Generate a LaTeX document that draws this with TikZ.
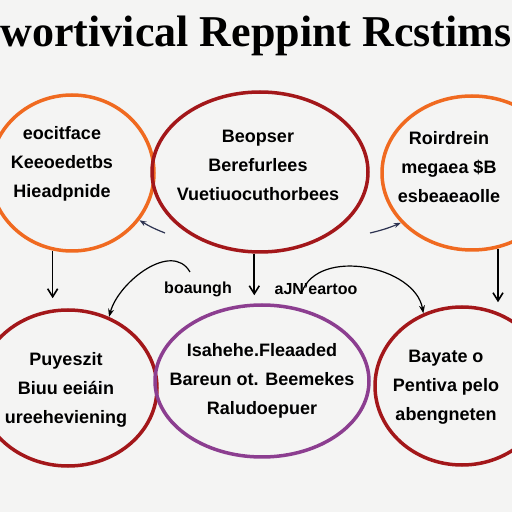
\documentclass[tikz,border=0pt]{standalone}
\usepackage{fontspec}
\setmainfont{Liberation Serif}
\setsansfont{Liberation Sans}
\usepackage{xcolor}
\usetikzlibrary{shapes.geometric, arrows.meta, positioning}
\definecolor{paper}{HTML}{F4F4F3}
\definecolor{ringorange}{HTML}{F06A20}
\definecolor{ringred}{HTML}{A3171A}
\definecolor{ringpurple}{HTML}{8C3E90}
\definecolor{inkblue}{HTML}{2C3250}

\begin{document}
\begin{tikzpicture}[x=1pt, y=1pt,
    ring/.style={ellipse, draw, line width=3.5pt, inner sep=0pt},
    txt/.style={align=center, font=\sffamily\bfseries\fontsize{18}{29}\selectfont},
    lbl/.style={font=\sffamily\bfseries\fontsize{16}{18}\selectfont},
    arrow/.style={-{Straight Barb[length=8pt, width=10pt]}, line width=1.6pt},
    curve/.style={-{Stealth[length=8pt, width=6pt]}, line width=1.2pt},
    stray/.style={-{Stealth[length=7pt, width=5pt]}, line width=1.2pt, inkblue}]
  \fill[paper] (0,0) rectangle (512,512);
  \useasboundingbox (0,0) rectangle (512,512);

  \node[font=\bfseries\fontsize{44}{48}\selectfont, anchor=base] (title) at (256,465)
        {wortivical Reppint Rcstims};

  \node[ring, ringorange, minimum width=164pt, minimum height=156pt] (tl) at (72,339) {};
  \node[ring, ringred, minimum width=216pt, minimum height=160pt] (tc) at (260,340) {};
  \node[ring, ringorange, minimum width=180pt, minimum height=154pt] (tr) at (472,339) {};
  \node[ring, ringred, minimum width=178pt, minimum height=156pt] (bl) at (68,124) {};
  \node[ring, ringpurple, minimum width=214pt, minimum height=152pt] (bc) at (262,131) {};
  \node[ring, ringred, minimum width=174pt, minimum height=158pt] (br) at (462,126) {};

  \node[txt] (tltext) at (62,348) {eocitface\\Keeoedetbs\\Hieadpnide};
  \node[txt] (tctext) at (258,347) {Beopser\\Berefurlees\\Vuetiuocuthorbees};
  \node[txt] (trtext) at (449,345) {Roirdrein\\megaea {\$}B\\esbeaeaolle};
  \node[txt] (bltext) at (66,122) {Puyeszit\\Biuu eeiáin\\ureeheviening};
  \node[txt] (bctext) at (262,131) {Isahehe.Fleaaded\\Bareun ot. Beemekes\\Raludoepuer};
  \node[txt] (brtext) at (446,125) {Bayate o\\Pentiva pelo\\abengneten};

  \node[lbl] (lblL) at (198,223) {boaungh};
  \node[lbl] (lblR) at (316,223) {aJN'eartoo};

  \coordinate (curveL) at (190,240);
  \coordinate (curveR) at (302,220);
  \coordinate (strayL) at (165,279);
  \coordinate (strayR) at (370,279);

  \draw[arrow] (tl.256) -- (tl.256 |- bl.north) [shorten >=10pt];
  \draw[arrow] (tc.266) -- (tc.266 |- bc.north) [shorten >=8pt];
  \draw[arrow] (tr.289) -- (tr.289 |- br.north) [shorten >=3pt];

  \draw[curve] (curveL) to[out=120, in=75] (bl.60);
  \draw[curve] (curveR) to[out=70, in=100] (br.118);

  \draw[stray] (strayL) to[bend left=5] (tl.-35);
  \draw[stray] (strayR) to[bend right=5] (tr.215);
\end{tikzpicture}
\end{document}
